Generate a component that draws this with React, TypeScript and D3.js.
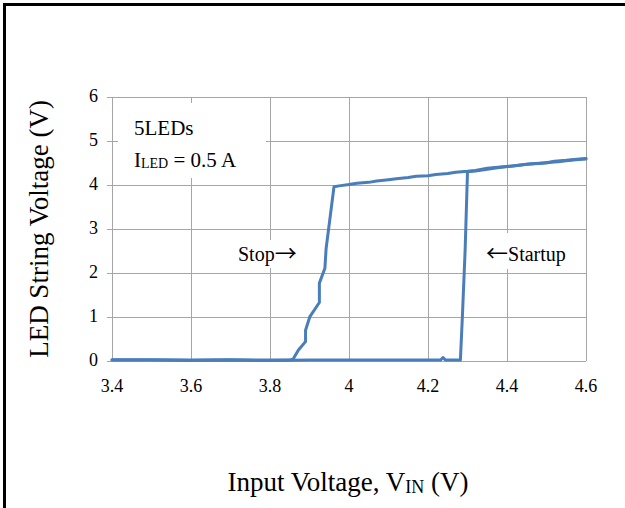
import React from "react";
import * as d3 from "d3";

// ---- data ----
const startupVin = [3.4, 3.5, 3.6, 3.7, 3.8, 3.9, 4.0, 4.1, 4.2, 4.232, 4.238, 4.244, 4.282, 4.287, 4.294, 4.3, 4.32, 4.35, 4.38, 4.4, 4.43, 4.45, 4.48, 4.5, 4.53, 4.55, 4.58, 4.6];
const startupLed = [0.02, 0.02, 0.01, 0.02, 0.01, 0.02, 0.02, 0.02, 0.02, 0.02, 0.08, 0.02, 0.02, 1.0, 2.52, 4.3, 4.32, 4.36, 4.4, 4.42, 4.45, 4.47, 4.49, 4.51, 4.53, 4.55, 4.58, 4.59];

const stopVin = [4.6, 4.57, 4.55, 4.52, 4.5, 4.47, 4.45, 4.42, 4.4, 4.37, 4.35, 4.32, 4.3, 4.27, 4.25, 4.22, 4.2, 4.17, 4.15, 4.12, 4.1, 4.07, 4.05, 4.02, 4.0, 3.975, 3.962, 3.942, 3.939, 3.925, 3.925, 3.901, 3.89, 3.89, 3.872, 3.859, 3.85, 3.8, 3.7, 3.6, 3.5, 3.4];
const stopLed = [4.6, 4.58, 4.56, 4.54, 4.5, 4.49, 4.47, 4.44, 4.42, 4.4, 4.38, 4.33, 4.31, 4.29, 4.26, 4.24, 4.21, 4.2, 4.17, 4.14, 4.12, 4.09, 4.06, 4.04, 4.01, 3.98, 3.96, 2.55, 2.11, 1.77, 1.33, 1.01, 0.7, 0.44, 0.25, 0.05, 0.02, 0.02, 0.03, 0.02, 0.03, 0.03];

const xTicks = [3.4, 3.6, 3.8, 4.0, 4.2, 4.4, 4.6];
const xTickLabels = ["3.4", "3.6", "3.8", "4", "4.2", "4.4", "4.6"];
const yTicks = [0, 1, 2, 3, 4, 5, 6];

const W = 625;
const H = 508;
const plot = { left: 112, right: 586, top: 97, bottom: 361 };
const BLUE = "#4a7ebb";
const GRID = "#a6a6a6";
const SERIF = "'Liberation Serif', 'Times New Roman', serif";
const ARROW = "'Noto Sans CJK JP', 'DejaVu Sans', sans-serif";

export default function App() {
  const x = d3.scaleLinear().domain([3.4, 4.6]).range([plot.left, plot.right]);
  const y = d3.scaleLinear().domain([0, 6]).range([plot.bottom, plot.top]);

  const line = d3
    .line<[number, number]>()
    .x((d) => x(d[0]))
    .y((d) => y(d[1]));

  const startupPts: [number, number][] = startupVin.map((v, i) => [v, startupLed[i]]);
  const stopPts: [number, number][] = stopVin.map((v, i) => [v, stopLed[i]]);

  return (
    <svg
      width={W}
      height={H}
      style={{ position: "absolute", left: 0, top: 0, background: "#fff" }}
      fontFamily={SERIF}
    >
      <rect x={0} y={0} width={W} height={H} fill="#fff" />
      {/* outer frame */}
      <rect x={4.5} y={4.5} width={W + 20} height={H + 20} fill="none" stroke="#000" strokeWidth={3} />

      {/* grid */}
      {xTicks.map((t) => (
        <line key={"gx" + t} x1={x(t)} x2={x(t)} y1={plot.top} y2={plot.bottom} stroke={GRID} strokeWidth={1} shapeRendering="crispEdges" />
      ))}
      {yTicks.map((t) => (
        <line key={"gy" + t} x1={plot.left - 5} x2={plot.right} y1={y(t)} y2={y(t)} stroke={GRID} strokeWidth={1} shapeRendering="crispEdges" />
      ))}

      {/* tick labels */}
      {yTicks.map((t) => (
        <text key={"ly" + t} x={plot.left - 14} y={y(t) + 5} textAnchor="end" fontFamily={SERIF} fontSize={18} fill="#000">
          {t}
        </text>
      ))}
      {xTicks.map((t, i) => (
        <text key={"lx" + t} x={x(t)} y={plot.bottom + 31} textAnchor="middle" fontFamily={SERIF} fontSize={18} fill="#000">
          {xTickLabels[i]}
        </text>
      ))}

      {/* annotation boxes */}
      <rect x={118} y={103} width={148} height={75} fill="#fff" />
      <text x={134} y={135} fontSize={21} fill="#000">5LEDs</text>
      <text x={134} y={167} fontSize={21} fill="#000">
        I<tspan fontSize={14} dy={1}>LED</tspan>
        <tspan dy={-1}> = 0.5 A</tspan>
      </text>

      <rect x={234} y={240} width={70} height={28} fill="#fff" />
      <text x={238} y={261} fontSize={20} fill="#000">
        Stop<tspan fontFamily={ARROW} fontSize={22}>→</tspan>
      </text>
      <rect x={482} y={233} width={104} height={36} fill="#fff" />
      <text x={486} y={261} fontSize={20} fill="#000">
        <tspan fontFamily={ARROW} fontSize={22}>←</tspan>Startup
      </text>

      {/* series */}
      <path d={line(startupPts) || ""} fill="none" stroke={BLUE} strokeWidth={3} strokeLinejoin="round" strokeLinecap="round" />
      <path d={line(stopPts) || ""} fill="none" stroke={BLUE} strokeWidth={3} strokeLinejoin="round" strokeLinecap="round" />

      {/* axis titles */}
      <text
        transform={`translate(${48},${(plot.top + plot.bottom) / 2}) rotate(-90)`}
        textAnchor="middle"
        fontSize={27}
        fill="#000"
      >
        LED String Voltage (V)
      </text>
      <text x={348} y={491} textAnchor="middle" fontSize={27} fill="#000">
        Input Voltage, V<tspan fontSize={18} dy={2}>IN</tspan>
        <tspan dy={-2}> (V)</tspan>
      </text>
    </svg>
  );
}
